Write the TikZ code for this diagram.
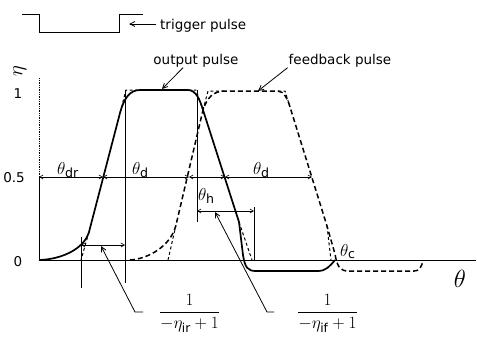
\documentclass[tikz,border=0pt]{standalone}
\usepackage{amsmath}
\usepackage{fontspec}
\setmainfont{DejaVu Sans}
\usetikzlibrary{arrows.meta}

\begin{document}
\begin{tikzpicture}[
  x=1pt, y=-1pt,
  pulse/.style={line width=1.7pt, line join=round},
  fback/.style={line width=1.5pt, dash pattern=on 5pt off 3pt},
  ideal/.style={line width=1pt, dash pattern=on 3pt off 2.5pt},
  thinline/.style={line width=0.75pt},
  dim/.style={line width=0.6pt, {Straight Barb[length=3.5pt,width=4pt]}-{Straight Barb[length=3.5pt,width=4pt]}},
  lead/.style={line width=0.8pt, -{Straight Barb[length=5pt,width=5pt]}},
  lab/.style={inner sep=0pt, font=\fontsize{13.5}{15}\selectfont},
  ang/.style={inner sep=0pt, anchor=base west, font=\fontsize{18}{20}\selectfont},
  fraclab/.style={inner sep=0pt, anchor=base, font=\fontsize{17.5}{19}\selectfont}
]
\useasboundingbox (0,0) rectangle (477,340);

% trigger
\draw[line width=1pt] (22,14) -- (39,14) -- (39,32) -- (119,32) -- (119,14) -- (143,14);
\node[lab, anchor=west] (trig) at (160,26) {trigger pulse};
\coordinate (trigtip) at (129,24);
\draw[lead] ([xshift=-4pt,yshift=2pt]trig.west) -- (trigtip);

% axes
\draw[thinline, densely dotted] (39,78) -- (39,177);
\draw[thinline] (39,177) -- (39,260) -- (476,260);
\node[lab, rotate=90, font=\fontsize{20}{22}\selectfont] (eta) at (20,71) {$\eta$};
\node[lab] (one) at (18,94) {1};
\node[lab] (half) at (14,178) {0.5};
\node[lab] (zero) at (18,262) {0};
\node[inner sep=0pt, font=\fontsize{26}{28}\selectfont] (theta) at (460,279) {$\theta$};

% output pulse
\draw[pulse] (40,260) .. controls (62,259) and (84,249) .. (89,232) -- (120,113)
  .. controls (124,98) and (130,90) .. (140,90) -- (188,90)
  .. controls (196,90) and (200,100) .. (203,110) -- (239,222) -- (243,255)
  .. controls (245,268) and (248,271) .. (256,271) -- (318,271)
  .. controls (326,271) and (330,266) .. (335,260);

% feedback pulse
\draw[fback] (130,260) .. controls (148,259) and (171,246) .. (176,225) -- (203,110)
  .. controls (207,98) and (213,91) .. (225,91) -- (278,91)
  .. controls (284,91) and (288,100) .. (290,107) -- (327,226) -- (335,254)
  .. controls (337,266) and (340,271) .. (348,271) -- (414,271)
  .. controls (419,271) and (421,268) .. (423,261);

% straight-line extensions
\draw[ideal] (89,232) -- (81,260);
\draw[ideal] (120,113) -- (126,90) -- (140,90);
\draw[ideal] (188,90) -- (196,90) -- (203,110);
\draw[ideal] (239,222) -- (252,260);
\draw[ideal] (176,225) -- (168,260);
\draw[ideal] (203,110) -- (208,91) -- (225,91);
\draw[ideal] (278,91) -- (285,91) -- (290,107);
\draw[ideal] (327,226) -- (331,260);

\draw[thinline] (125,90) -- (125,283);
\draw[thinline] (81,237) -- (81,288);
\draw[thinline] (197,90) -- (197,222);
\draw[thinline] (254,207) -- (254,261);

% widths
\draw[dim] (39,177) -- (103,177);
\draw[dim] (103,177) -- (189,177);
\draw[dim] (189,177) -- (225,177);
\draw[dim] (225,177) -- (312,177);
\draw[dim] (81,245) -- (125,245);
\draw[dim] (197,211) -- (254,211);

\node[ang] (tdr) at (57,174) {$\theta_{\text{dr}}$};
\node[ang] (tdone) at (132,174) {$\theta_{\text{d}}$};
\node[ang] (tdtwo) at (253,174) {$\theta_{\text{d}}$};
\node[ang] (th) at (198,200) {$\theta_{\text{h}}$};
\node[ang] (tc) at (340,256) {$\theta_{\text{c}}$};

% labels
\node[lab] (outlab) at (196,61) {output pulse};
\node[lab] (fblab) at (340,61) {feedback pulse};
\coordinate (outtip) at (162,89);
\coordinate (fbtip) at (258,91);
\draw[lead] ([xshift=-13pt]outlab.south) -- (outtip);
\draw[lead] ([xshift=-1pt]fblab.south west) -- (fbtip);

\node[fraclab] (irfrac) at (189.5,317) {$\dfrac{1}{-\eta_{\text{ir}}+1}$};
\node[fraclab] (iffrac) at (327.5,317) {$\dfrac{1}{-\eta_{\text{if}}+1}$};
\coordinate (irfoot) at (143,312);
\coordinate (iffoot) at (274,312);
\coordinate (irtip) at (101,246);
\coordinate (iftip) at (215,212);
\draw[lead] (irfoot) -- ++(-8,0) -- (irtip);
\draw[lead] (iffoot) -- ++(-7,0) -- (iftip);
\end{tikzpicture}
\end{document}
